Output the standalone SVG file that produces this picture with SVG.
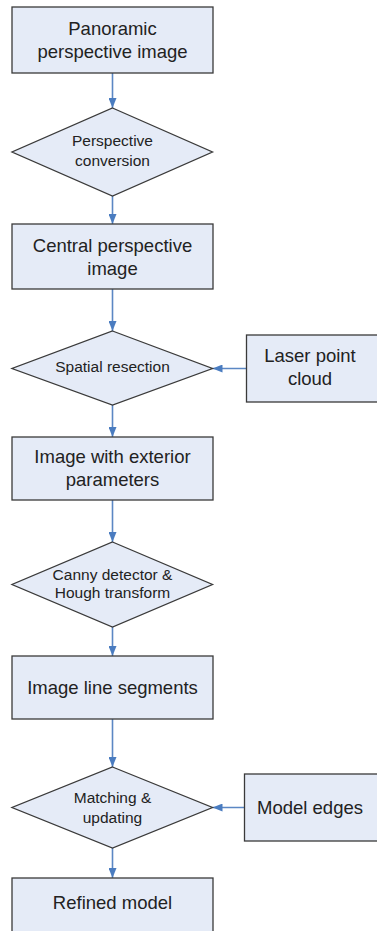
<svg xmlns="http://www.w3.org/2000/svg" width="377" height="931" viewBox="0 0 377 931">
<style>
.n{fill:#e5ebf7;stroke:#3a3a3a;stroke-width:1.3}
.t{font-family:"Liberation Sans",Arial,sans-serif;font-size:18.5px;fill:#222;text-anchor:middle}
.d{font-family:"Liberation Sans",Arial,sans-serif;font-size:15.5px;fill:#222;text-anchor:middle}
.c{stroke:#5b87c4;stroke-width:1.6;fill:none}
</style>
<defs>
<marker id="ah" markerUnits="userSpaceOnUse" markerWidth="11" markerHeight="8" refX="10" refY="4" orient="auto">
<path d="M0,0 L10,4 L0,8 z" fill="#4a7cc0"/>
</marker>
</defs>
<rect width="377" height="931" fill="#ffffff"/>
<g id="connectors">
<line class="c" x1="112.5" y1="73" x2="112.5" y2="108" marker-end="url(#ah)"/>
<line class="c" x1="112.5" y1="196" x2="112.5" y2="224" marker-end="url(#ah)"/>
<line class="c" x1="112.5" y1="289" x2="112.5" y2="331" marker-end="url(#ah)"/>
<line class="c" x1="246.5" y1="368.5" x2="212.5" y2="368.5" marker-end="url(#ah)"/>
<line class="c" x1="112.5" y1="405" x2="112.5" y2="437" marker-end="url(#ah)"/>
<line class="c" x1="112.5" y1="500" x2="112.5" y2="542" marker-end="url(#ah)"/>
<line class="c" x1="112.5" y1="627" x2="112.5" y2="656" marker-end="url(#ah)"/>
<line class="c" x1="112.5" y1="719" x2="112.5" y2="767" marker-end="url(#ah)"/>
<line class="c" x1="244.5" y1="807.5" x2="212.5" y2="807.5" marker-end="url(#ah)"/>
<line class="c" x1="112.5" y1="848" x2="112.5" y2="878" marker-end="url(#ah)"/>
</g>
<g id="panoramic">
<rect class="n" x="12" y="7" width="201" height="66"/>
<text class="t" x="112.5" y="34.5">Panoramic</text>
<text class="t" x="112.5" y="57.5">perspective image</text>
</g>
<g id="perspective-conversion">
<polygon class="n" points="112.5,108 212.5,152 112.5,196 12,152"/>
<text class="d" x="112.5" y="145.5">Perspective</text>
<text class="d" x="112.5" y="165.5">conversion</text>
</g>
<g id="central">
<rect class="n" x="12" y="224" width="201" height="65"/>
<text class="t" x="112.5" y="251.5">Central perspective</text>
<text class="t" x="112.5" y="274.5">image</text>
</g>
<g id="spatial-resection">
<polygon class="n" points="112.5,331 212.5,368.5 112.5,405 12,368.5"/>
<text class="d" x="112.5" y="372">Spatial resection</text>
</g>
<g id="laser">
<rect class="n" x="246.5" y="335" width="140" height="67"/>
<text class="t" x="310" y="362">Laser point</text>
<text class="t" x="310" y="385">cloud</text>
</g>
<g id="exterior">
<rect class="n" x="12" y="437" width="201" height="63"/>
<text class="t" x="112.5" y="463">Image with exterior</text>
<text class="t" x="112.5" y="486">parameters</text>
</g>
<g id="canny-hough">
<polygon class="n" points="112.5,542 212.5,584.5 112.5,627 12,584.5"/>
<text class="d" x="112.5" y="580">Canny detector &amp;</text>
<text class="d" x="112.5" y="598">Hough transform</text>
</g>
<g id="line-segments">
<rect class="n" x="12" y="656" width="201" height="63"/>
<text class="t" x="112.5" y="694">Image line segments</text>
</g>
<g id="matching">
<polygon class="n" points="112.5,767 212.5,807.5 112.5,848 12,807.5"/>
<text class="d" x="112.5" y="803">Matching &amp;</text>
<text class="d" x="112.5" y="823">updating</text>
</g>
<g id="model-edges">
<rect class="n" x="244.5" y="774" width="140" height="67"/>
<text class="t" x="310" y="813.5">Model edges</text>
</g>
<g id="refined">
<rect class="n" x="12" y="878" width="201" height="66"/>
<text class="t" x="112.5" y="909">Refined model</text>
</g>
</svg>
